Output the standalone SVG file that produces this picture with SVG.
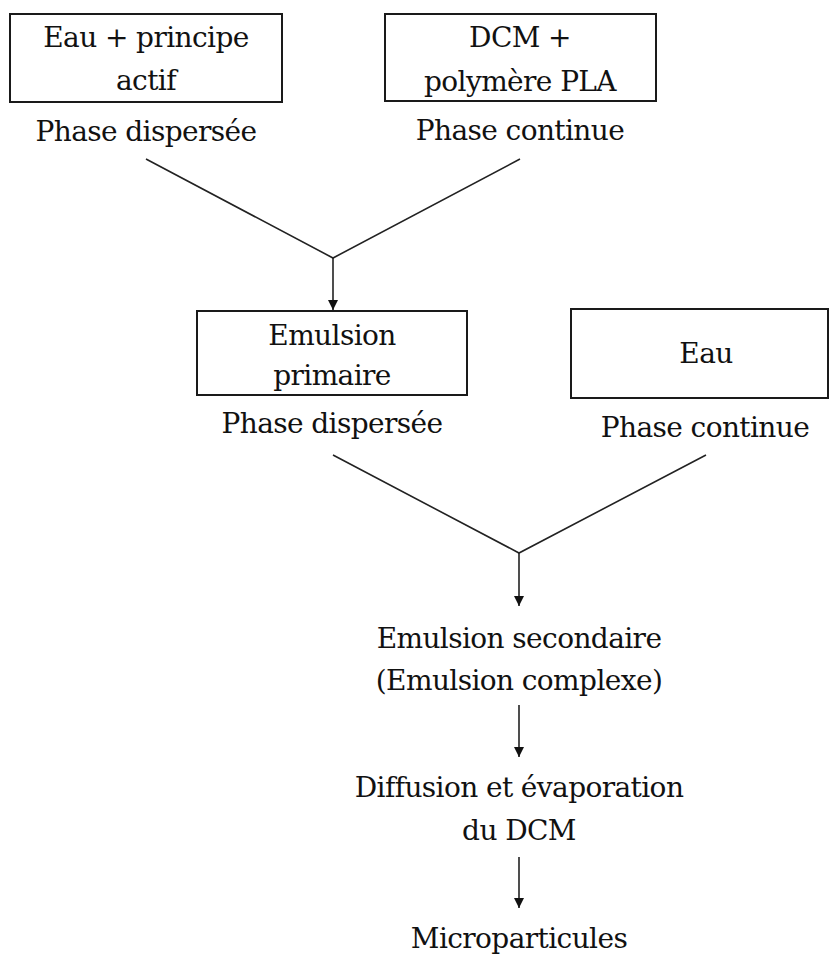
<svg xmlns="http://www.w3.org/2000/svg" width="829" height="958" viewBox="0 0 829 958">
<style>
.box{fill:#fff;stroke:#1a1a1a;stroke-width:2}
.t{font-family:'DejaVu Serif',serif;font-size:28px;letter-spacing:-0.6px;fill:#111;text-anchor:middle}
.ln{fill:none;stroke:#222;stroke-width:1.6}
</style>
<defs>
<marker id="ah" markerWidth="12" markerHeight="12" refX="10" refY="5" orient="auto" markerUnits="userSpaceOnUse">
<path d="M0,0 L10,5 L0,10 Z" fill="#111"/>
</marker>
</defs>
<rect width="829" height="958" fill="#fff"/>
<g id="n1">
<rect class="box" x="10" y="14" width="272" height="88"/>
<text class="t" x="146" y="47">Eau + principe</text>
<text class="t" x="146" y="90">actif</text>
<text class="t" x="146" y="141">Phase dispersée</text>
</g>
<g id="n2">
<rect class="box" x="385" y="14" width="271" height="87"/>
<text class="t" x="520" y="47">DCM +</text>
<text class="t" x="520" y="91">polymère PLA</text>
<text class="t" x="520" y="140">Phase continue</text>
</g>
<g id="n3">
<rect class="box" x="197" y="311" width="270" height="84"/>
<text class="t" x="332" y="345">Emulsion</text>
<text class="t" x="332" y="385">primaire</text>
<text class="t" x="332" y="433">Phase dispersée</text>
</g>
<g id="n4">
<rect class="box" x="571" y="309" width="257" height="89"/>
<text class="t" x="706" y="363">Eau</text>
<text class="t" x="705" y="437">Phase continue</text>
</g>
<g id="n5">
<text class="t" x="519" y="648">Emulsion secondaire</text>
<text class="t" x="519" y="690">(Emulsion complexe)</text>
</g>
<g id="n6">
<text class="t" x="519" y="797">Diffusion et évaporation</text>
<text class="t" x="519" y="840">du DCM</text>
</g>
<g id="n7">
<text class="t" x="519" y="948">Microparticules</text>
</g>
<g id="connectors">
<polyline class="ln" points="146,159 333,258 520,159"/>
<line class="ln" x1="333" y1="258" x2="333" y2="310" marker-end="url(#ah)"/>
<polyline class="ln" points="333,455 519,553 706,455"/>
<line class="ln" x1="519" y1="553" x2="519" y2="606" marker-end="url(#ah)"/>
<line class="ln" x1="519" y1="705" x2="519" y2="757" marker-end="url(#ah)"/>
<line class="ln" x1="519" y1="857" x2="519" y2="908" marker-end="url(#ah)"/>
</g>
</svg>
